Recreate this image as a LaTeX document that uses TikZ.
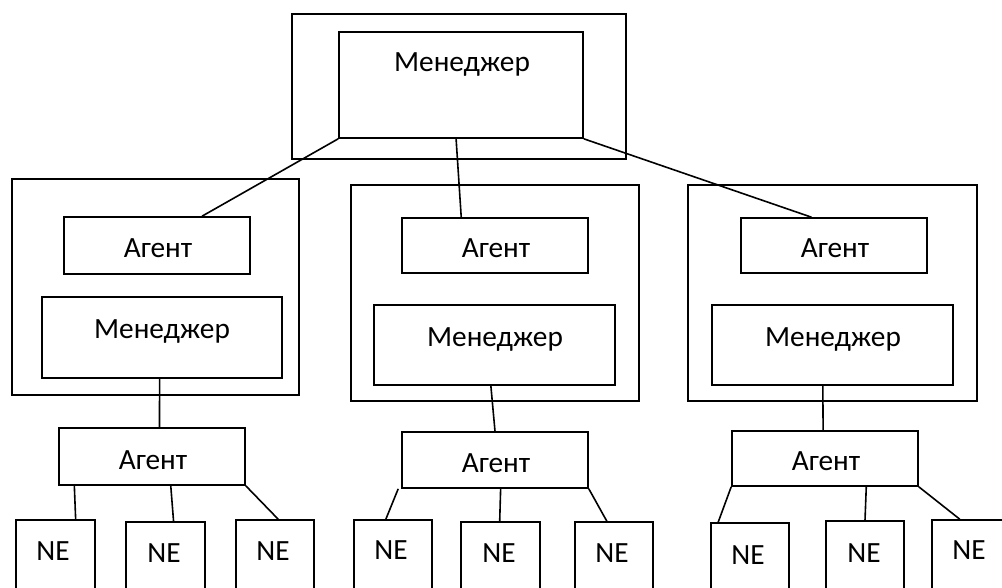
\documentclass[tikz,border=0pt]{standalone}
\usepackage{fontspec}
\setmainfont{Carlito}
\usetikzlibrary{fit,calc}

\tikzset{
  box/.style={draw, line width=1.2pt, inner sep=0pt, rectangle},
  label/.style={anchor=base, inner sep=0pt, font=\fontsize{22}{26}\selectfont},
  link/.style={line width=1.2pt},
}

\begin{document}
\begin{tikzpicture}[x=0.75pt, y=-0.75pt]
\useasboundingbox (0,0) rectangle (1002,587);
\clip (0,0) rectangle (1002,587);
\fill[white] (0,0) rectangle (1002,587);

% top-level manager
\node[box, fit={(292,14) (626,159)}] (topout) {};
\node[box, fit={(339,32) (583,138)}] (topmgr) {};
\node[label] (ttop) at (462,71) {Менеджер};

% mid-level groups: agent + manager
\node[box, fit={(12,179) (299,395)}] (lout) {};
\node[box, fit={(64,217) (250,274)}] (lag) {};
\node[box, fit={(42,297) (282,378)}] (lmgr) {};
\node[label] (tlag) at (158,257) {Агент};
\node[label] (tlmgr) at (162,338) {Менеджер};

\node[box, fit={(351,185) (639,401)}] (mout) {};
\node[box, fit={(402,218) (588,273)}] (mag) {};
\node[box, fit={(374,305) (615,385)}] (mmgr) {};
\node[label] (tmag) at (496,257) {Агент};
\node[label] (tmmgr) at (495,346) {Менеджер};

\node[box, fit={(688,185) (977,401)}] (rout) {};
\node[box, fit={(741,218) (927,273)}] (rag) {};
\node[box, fit={(712,305) (953,385)}] (rmgr) {};
\node[label] (trag) at (835,257) {Агент};
\node[label] (trmgr) at (833,346) {Менеджер};

% lower agents
\node[box, fit={(59,428) (245,485)}] (lag2) {};
\node[box, fit={(402,432) (588,488)}] (mag2) {};
\node[box, fit={(732,431) (918,486)}] (rag2) {};
\node[label] (tlag2) at (153,469) {Агент};
\node[label] (tmag2) at (496,472) {Агент};
\node[label] (trag2) at (826,470) {Агент};

% network elements
\node[box, fit={(16,520) (95,610)}] (ne1) {};
\node[box, fit={(126,522) (205,610)}] (ne2) {};
\node[box, fit={(236,520) (314,610)}] (ne3) {};
\node[box, fit={(354,520) (432,610)}] (ne4) {};
\node[box, fit={(461,522) (540,610)}] (ne5) {};
\node[box, fit={(575,522) (653,610)}] (ne6) {};
\node[box, fit={(711,523) (789,610)}] (ne7) {};
\node[box, fit={(826,521) (904,610)}] (ne8) {};
\node[box, fit={(932,520) (1012,610)}] (ne9) {};
\node[label] (tne1) at (53,560) {NE};
\node[label] (tne2) at (164,562) {NE};
\node[label] (tne3) at (273,560) {NE};
\node[label] (tne4) at (391,559) {NE};
\node[label] (tne5) at (499,562) {NE};
\node[label] (tne6) at (612,562) {NE};
\node[label] (tne7) at (748,564) {NE};
\node[label] (tne8) at (864,562) {NE};
\node[label] (tne9) at (969,559) {NE};

% top manager to mid-level agents
\draw[link] (topmgr.south west) -- ($(lag.north west)!0.74!(lag.north east)$);
\draw[link] ($(topmgr.south west)!0.48!(topmgr.south east)$) -- ($(mag.north west)!0.32!(mag.north east)$);
\draw[link] (topmgr.south east) -- ($(rag.north west)!0.38!(rag.north east)$);

% mid-level managers to lower agents
\draw[link] ($(lmgr.south west)!0.49!(lmgr.south east)$) -- ($(lag2.north west)!0.54!(lag2.north east)$);
\draw[link] ($(mmgr.south west)!0.485!(mmgr.south east)$) -- ($(mag2.north west)!0.5!(mag2.north east)$);
\draw[link] ($(rmgr.south west)!0.46!(rmgr.south east)$) -- ($(rag2.north west)!0.49!(rag2.north east)$);

% lower agents to network elements
\draw[link] ($(lag2.south west)!0.086!(lag2.south east)$) -- ($(ne1.north west)!0.75!(ne1.north east)$);
\draw[link] ($(lag2.south west)!0.6!(lag2.south east)$) -- ($(ne2.north west)!0.6!(ne2.north east)$);
\draw[link] (lag2.south east) -- ($(ne3.north west)!0.54!(ne3.north east)$);

\draw[link] ([xshift=-2.25pt]mag2.south west) -- ($(ne4.north west)!0.41!(ne4.north east)$);
\draw[link] ($(mag2.south west)!0.53!(mag2.south east)$) -- ($(ne5.north west)!0.49!(ne5.north east)$);
\draw[link] (mag2.south east) -- ($(ne6.north west)!0.41!(ne6.north east)$);

\draw[link] (rag2.south west) -- ($(ne7.north west)!0.1!(ne7.north east)$);
\draw[link] ($(rag2.south west)!0.72!(rag2.south east)$) -- ($(ne8.north west)!0.5!(ne8.north east)$);
\draw[link] (rag2.south east) -- ($(ne9.north west)!0.35!(ne9.north east)$);
\end{tikzpicture}
\end{document}
